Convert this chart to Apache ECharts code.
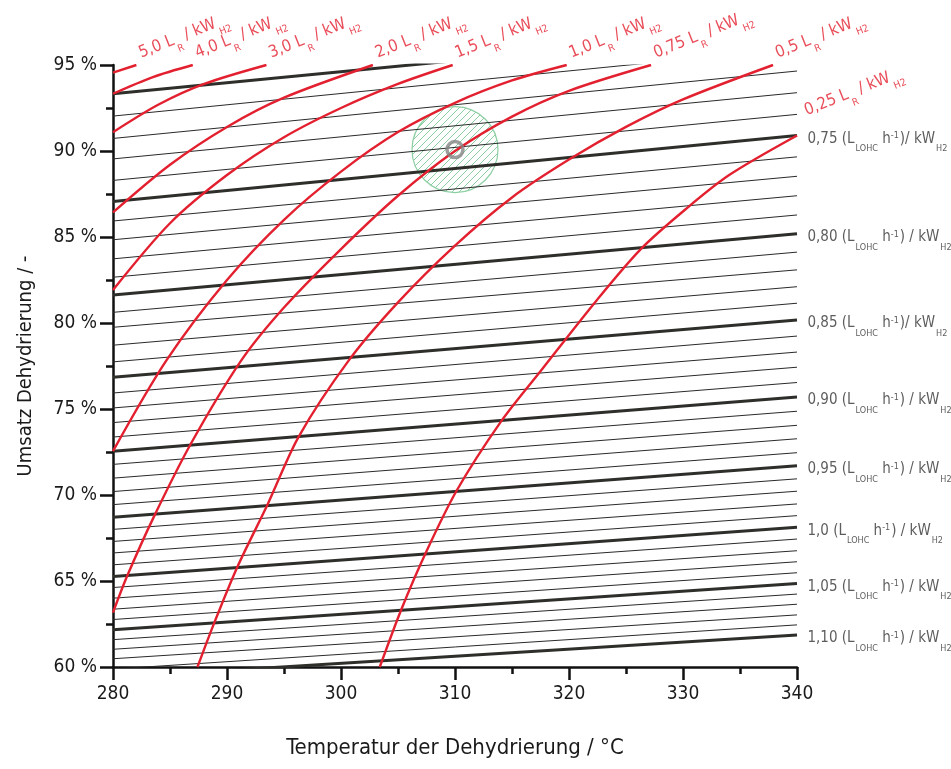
<!DOCTYPE html>
<html>
<head>
<meta charset="utf-8">
<script src="https://cdn.jsdelivr.net/npm/echarts@6/dist/echarts.min.js"></script>
<style>
html, body { margin: 0; padding: 0; background: #fff; }
#chart { width: 951px; height: 769px; }
</style>
</head>
<body>
<div id="chart"></div>
<script>
// LOHC-Durchsatz der Iso-Linien (L_LOHC h^-1 / kW_H2)
var lohcFlow = [0.70, 0.71, 0.72, 0.73, 0.74, 0.75, 0.76, 0.77, 0.78, 0.79,
                0.80, 0.81, 0.82, 0.83, 0.84, 0.85, 0.86, 0.87, 0.88, 0.89,
                0.90, 0.91, 0.92, 0.93, 0.94, 0.95, 0.96, 0.97, 0.98, 0.99,
                1.00, 1.01, 1.02, 1.03, 1.04, 1.05, 1.06, 1.07, 1.08, 1.09, 1.10];
// Umsatz bei 280 °C
var lohcLeft = [93.33, 92.03, 90.73, 89.54, 88.29, 87.07, 85.93, 84.84, 83.73, 82.66,
                81.63, 80.62, 79.75, 78.71, 77.74, 76.85, 75.93, 75.06, 74.21, 73.37,
                72.55, 71.78, 70.98, 70.20, 69.44, 68.70, 68.00, 67.30, 66.63, 65.94,
                65.26, 64.62, 64.00, 63.36, 62.76, 62.17, 61.59, 61.03, 60.48, 59.88, 59.39];
// Umsatz bei 340 °C
var lohcRight = [97.17, 95.97, 94.65, 93.39, 92.13, 90.90, 89.66, 88.53, 87.40, 86.28,
                 85.19, 84.12, 83.09, 82.11, 81.15, 80.17, 79.24, 78.31, 77.43, 76.54,
                 75.70, 74.87, 74.05, 73.27, 72.46, 71.70, 70.94, 70.22, 69.48, 68.80,
                 68.12, 67.44, 66.76, 66.12, 65.48, 64.85, 64.24, 63.65, 63.03, 62.45, 61.86];
// beschriftete Linien
var flowLabels = ['0,75', '0,80', '0,85', '0,90', '0,95', '1,0', '1,05', '1,10'];
var flowSep = [')/', ') /', ')/', ') /', ') /', ') /', ') /', ') /'];

// Reaktorvolumen-Kurven (L_R / kW_H2): [Temperatur, Umsatz]
var reactorNames = ['5,0', '4,0', '3,0', '2,0', '1,5', '1,0', '0,75', '0,5', '0,25'];
var r50 = [[280, 94.56], [282.05, 95]];
var r40 = [[280, 93.33], [283.5, 94.3], [287.0, 95]];
var r30 = [[280, 91.09], [284, 92.7], [288, 93.9], [293.46, 95]];
var r20 = [[280, 86.43], [285, 89.2], [290, 91.4], [295, 93.1], [302.8, 95]];
var r15 = [[280, 81.92], [285, 85.8], [290, 88.6], [295, 90.8], [300, 92.5], [305, 93.9], [309.8, 95]];
var r10 = [[280, 72.55], [284.7, 77.84], [290, 82.5], [295, 86.0], [300, 88.8], [305, 91.1],
           [310, 92.8], [315, 94.1], [319.8, 95]];
var r075 = [[280, 63.16], [281.25, 65.3], [283.56, 68.7], [286.83, 72.98], [291.27, 77.84],
            [295, 80.9], [300, 84.3], [305, 87.4], [310, 90.0], [315, 92.0], [320, 93.5], [327.2, 95]];
var r05 = [[287.41, 60], [288.95, 62.68], [290.89, 65.79], [293.58, 69.48], [296.27, 73.37],
           [300.7, 77.84], [305, 81.2], [310, 84.5], [315, 87.3], [320, 89.5], [325, 91.4],
           [330, 93.0], [337.9, 95]];
var r025 = [[303.4, 60], [305.3, 63.36], [307.45, 66.66], [310.15, 70.26], [314.0, 74.24],
            [317.55, 77.24], [322.4, 81.3], [326.3, 84.3], [330.2, 86.6], [334.05, 88.6], [340, 90.9]];
var reactorCurves = [r50, r40, r30, r20, r15, r10, r075, r05, r025];

// Betriebspunkt
var opPoint = [310, 90.08];

var RED = '#e3202f';
var FONT = "'Liberation Sans Narrow', 'DejaVu Sans Condensed', sans-serif";

var myChart = echarts.init(document.getElementById('chart'));

// Schraffur fuer den Toleranzbereich
var hatch = document.createElement('canvas');
hatch.width = 7; hatch.height = 7;
var g = hatch.getContext('2d');
g.strokeStyle = '#8ccfa2';
g.lineWidth = 1;
[-7, 0, 7].forEach(function (o) {
  g.beginPath(); g.moveTo(o, 7); g.lineTo(o + 7, 0); g.stroke();
});

var series = [];

// Toleranzbereich um den Betriebspunkt
series.push({
  type: 'custom', z: 1, silent: true,
  data: [opPoint],
  renderItem: function (params, api) {
    var c = api.coord([api.value(0), api.value(1)]);
    return {
      type: 'circle',
      shape: { cx: c[0], cy: c[1], r: 43 },
      style: { fill: { image: hatch, repeat: 'repeat' }, stroke: '#8ccfa2', lineWidth: 1.2 }
    };
  }
});

lohcFlow.forEach(function (f, i) {
  var thick = i % 5 === 0;
  series.push({
    type: 'line', z: 2, silent: true, symbol: 'none',
    data: [[280, lohcLeft[i]], [340, lohcRight[i]]],
    lineStyle: { color: thick ? '#2e2e2a' : '#2a2a2a', width: thick ? 3 : 1 }
  });
});

reactorCurves.forEach(function (c) {
  series.push({
    type: 'line', z: 3, silent: true, symbol: 'none', smooth: 0.3,
    data: c,
    lineStyle: { color: RED, width: 2.4 }
  });
});

series.push({
  type: 'scatter', z: 5, silent: true,
  data: [opPoint],
  symbol: 'circle', symbolSize: 16,
  itemStyle: { color: 'rgba(0,0,0,0)', borderColor: '#858585', borderWidth: 3.5 }
});

// Beschriftung der roten Kurven
var redLabelData = reactorCurves.map(function (c, i) {
  var p = c[c.length - 1];
  var item = { value: p, name: reactorNames[i] };
  if (i === reactorCurves.length - 1) item.label = { position: [13, -13] };
  return item;
});
series.push({
  type: 'scatter', z: 6, silent: true, clip: false,
  symbolSize: 1, itemStyle: { color: 'rgba(0,0,0,0)' },
  data: redLabelData,
  label: {
    show: true, position: [8, 0], rotate: 22, align: 'left', verticalAlign: 'bottom',
    formatter: function (p) { return '{m|' + p.name + ' L}{s|R}{m| / kW}{s|H2}'; },
    rich: {
      m: { fontSize: 16.5, color: RED, fontFamily: FONT, lineHeight: 20, verticalAlign: 'top' },
      s: { fontSize: 10, color: RED, fontFamily: FONT, lineHeight: 11, verticalAlign: 'top', padding: [14, 0, 0, 1] }
    }
  }
});

// Beschriftung der dicken schwarzen Linien
var flowLabelData = [];
var k = 0;
lohcFlow.forEach(function (f, i) {
  if (i % 5 === 0 && i > 0) {
    flowLabelData.push({ value: [340, lohcRight[i]], name: flowLabels[k], sep: flowSep[k] });
    k++;
  }
});
series.push({
  type: 'scatter', z: 6, silent: true, clip: false,
  symbolSize: 1, itemStyle: { color: 'rgba(0,0,0,0)' },
  data: flowLabelData,
  label: {
    show: true, position: 'right', distance: 10, offset: [0, 5],
    formatter: function (p) {
      return '{m|' + p.name + ' (L}{s|LOHC}{m| h}{p|-1}{m|' + p.data.sep + ' kW}{s|H2}';
    },
    rich: {
      m: { fontSize: 15, color: '#333', fontFamily: FONT, lineHeight: 18, verticalAlign: 'top' },
      s: { fontSize: 9, color: '#333', fontFamily: FONT, lineHeight: 10, verticalAlign: 'top', padding: [13, 0, 0, 1] },
      p: { fontSize: 9, color: '#333', fontFamily: FONT, lineHeight: 10, verticalAlign: 'top', padding: [0, 1, 0, 0] }
    }
  }
});

var axisCommon = {
  type: 'value',
  axisLine: { show: true, lineStyle: { color: '#111', width: 2.5 } },
  axisTick: { show: true, length: 13, lineStyle: { color: '#111', width: 2.5 } },
  minorTick: { show: true, splitNumber: 2, length: 7, lineStyle: { color: '#111', width: 2.5 } },
  splitLine: { show: false },
  minorSplitLine: { show: false }
};

var option = {
  animation: false,
  backgroundColor: '#fff',
  grid: { left: 113, right: 154, top: 65, bottom: 102, containLabel: false },
  xAxis: Object.assign({}, axisCommon, {
    min: 280, max: 340, interval: 10,
    axisLabel: { fontSize: 19, color: '#1a1a1a', fontFamily: FONT, margin: 18 },
    name: 'Temperatur der Dehydrierung / °C',
    nameLocation: 'middle', nameGap: 70,
    nameTextStyle: { fontSize: 22, color: '#1a1a1a', fontFamily: FONT }
  }),
  yAxis: Object.assign({}, axisCommon, {
    min: 60, max: 95, interval: 5,
    axisLabel: { fontSize: 19, color: '#1a1a1a', fontFamily: FONT, margin: 16,
      formatter: function (v) { return v + ' %'; } },
    name: 'Umsatz Dehydrierung / -',
    nameLocation: 'middle', nameGap: 77,
    nameTextStyle: { fontSize: 20, color: '#1a1a1a', fontFamily: FONT }
  }),
  series: series
};

myChart.setOption(option);
</script>
</body>
</html>
